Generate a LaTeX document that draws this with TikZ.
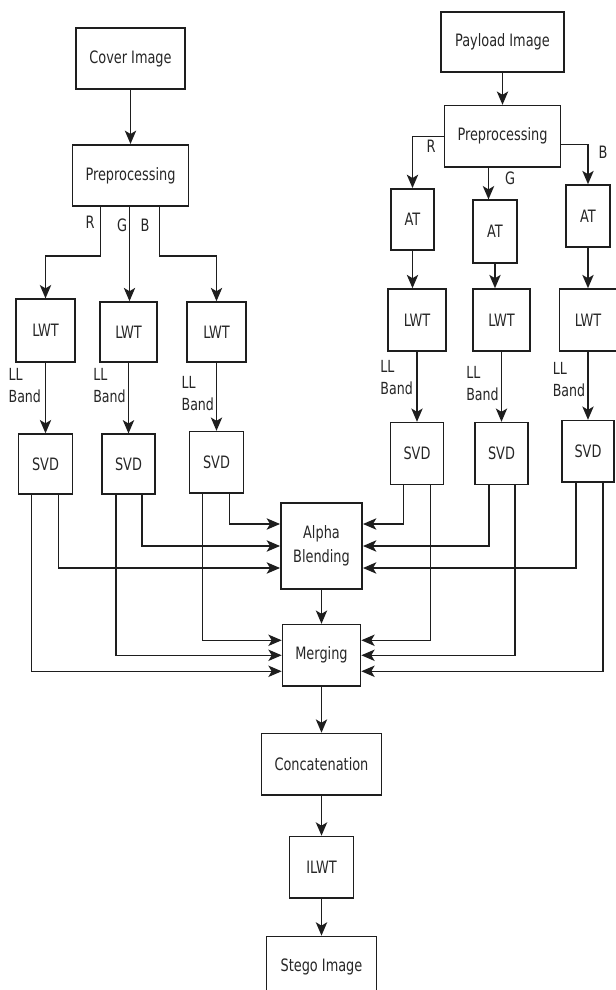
\documentclass[tikz,border=0pt]{standalone}
\usepackage{fontspec}
\setmainfont{DejaVu Sans Condensed}[FakeStretch=0.84]
\usepackage{tikz}
\usetikzlibrary{positioning,calc,arrows.meta}
\definecolor{ink}{HTML}{1E1E1E}
\definecolor{txt}{HTML}{262626}
\tikzset{
  procbox/.style={draw=ink, line width=1.2pt, align=center, inner sep=2pt, text=txt},
  arrow/.style={-{Stealth[length=10pt,width=8.5pt,inset=2.5pt]}, draw=ink, line width=1.1pt},
  bandlbl/.style={align=left, inner sep=0pt, anchor=north west, text=txt, font=\fontsize{12.5}{16.5}\selectfont},
  chlbl/.style={inner sep=0pt, text=txt}
}

\begin{document}
\begin{tikzpicture}[x=0.75pt, y={(0pt,-0.75pt)}, font=\fontsize{12.8}{15}\selectfont]
  \useasboundingbox (0,0) rectangle (616,990);

  % cover image side
  \node[procbox, minimum width=82pt, minimum height=46pt] (cover) at (130.5,58.5) {Cover Image};
  \node[procbox, minimum width=87pt, minimum height=46pt, below=40.5pt of cover] (prepL) {Preprocessing};
  \node[procbox, minimum width=44pt, minimum height=47pt] (lwt1) at (45.5,330.5) {LWT};
  \node[procbox, minimum width=43pt, minimum height=45pt] (lwt2) at (128.5,332) {LWT};
  \node[procbox, minimum width=44pt, minimum height=45pt] (lwt3) at (216.5,332) {LWT};
  \node[procbox, minimum width=40.5pt, minimum height=45pt, below=53pt of lwt1] (svd1) {SVD};
  \node[procbox, minimum width=40pt, minimum height=45pt, below=53pt of lwt2] (svd2) {SVD};
  \node[procbox, minimum width=40.5pt, minimum height=46pt, below=51pt of lwt3] (svd3) {SVD};

  % payload image side
  \node[procbox, minimum width=92pt, minimum height=45pt] (payload) at (502.5,42) {Payload Image};
  \node[procbox, minimum width=87pt, minimum height=46pt, below=24pt of payload] (prepR) {Preprocessing};
  \node[procbox, minimum width=32pt, minimum height=46pt] (at1) at (412.5,219.5) {AT};
  \node[procbox, minimum width=33pt, minimum height=47pt] (at2) at (495,231.5) {AT};
  \node[procbox, minimum width=33pt, minimum height=46.5pt] (at3) at (588,216) {AT};
  \node[procbox, minimum width=43.5pt, minimum height=46.5pt] (lwt4) at (417,320) {LWT};
  \node[procbox, minimum width=43pt, minimum height=46.5pt] (lwt5) at (501.5,320) {LWT};
  \node[procbox, minimum width=43pt, minimum height=46.5pt] (lwt6) at (588,320) {LWT};
  \node[procbox, minimum width=40pt, minimum height=46.5pt, below=52.5pt of lwt4] (svd4) {SVD};
  \node[procbox, minimum width=40pt, minimum height=46.5pt, below=52.5pt of lwt5] (svd5) {SVD};
  \node[procbox, minimum width=39pt, minimum height=46pt, below=51pt of lwt6] (svd6) {SVD};

  % middle column
  \node[procbox, minimum width=61pt, minimum height=64.5pt, font=\fontsize{12.8}{18}\selectfont] (alpha) at (321.5,546) {Alpha\\Blending};
  \node[procbox, minimum width=58.5pt, minimum height=46pt, below=25.5pt of alpha] (merge) {Merging};
  \node[procbox, minimum width=90pt, minimum height=46pt, below=34.5pt of merge] (concat) {Concatenation};
  \node[procbox, minimum width=48pt, minimum height=46pt, below=30pt of concat] (ilwt) {ILWT};
  \node[procbox, minimum width=82.5pt, minimum height=46.5pt, below=27.75pt of ilwt] (stego) {Stego Image};

  % channel split, cover
  \coordinate (gsrcL) at ($(prepL.south)+(-1,0)$);
  \draw[arrow] (cover) -- (prepL);
  \draw[arrow] ($(prepL.south)+(-30,0)$) -- ++(0,49) -| (lwt1);
  \draw[arrow] (gsrcL) -- (gsrcL |- lwt2.north);
  \draw[arrow] ($(prepL.south)+(29,0)$) -- ++(0,49) -| (lwt3);
  \node[chlbl] (rL) at (90,222) {R};
  \node[chlbl] (gL) at (122,225) {G};
  \node[chlbl] (bL) at (145,225) {B};

  % channel split, payload
  \coordinate (gsrcR) at ($(prepR.south)+(-14,0)$);
  \draw[arrow] (payload) -- (prepR);
  \draw[arrow] (prepR.west) -| (at1);
  \draw[arrow] (gsrcR) -- (gsrcR |- at2.north);
  \draw[arrow] ($(prepR.east)+(0,8)$) -| (at3);
  \node[chlbl] (rR) at (431,146) {R};
  \node[chlbl] (gR) at (510,178) {G};
  \node[chlbl] (bR) at (603,152) {B};

  \draw[arrow] (at1) -- (at1 |- lwt4.north);
  \draw[arrow] (at2) -- (at2 |- lwt5.north);
  \draw[arrow] (at3) -- (at3 |- lwt6.north);

  % LL band
  \draw[arrow] (lwt1) -- (lwt1 |- svd1.north);
  \draw[arrow] (lwt2) -- (lwt2 |- svd2.north);
  \draw[arrow] (lwt3) -- (lwt3 |- svd3.north);
  \draw[arrow] (lwt4) -- (lwt4 |- svd4.north);
  \draw[arrow] (lwt5) -- (lwt5 |- svd5.north);
  \draw[arrow] (lwt6) -- (lwt6 |- svd6.north);
  \node[bandlbl] (band1) at ($(lwt1.south west)+(-7,5)$) {LL\\Band};
  \node[bandlbl] (band2) at ($(lwt2.south west)+(-6,5)$) {LL\\Band};
  \node[bandlbl] (band3) at ($(lwt3.south west)+(-5,13)$) {LL\\Band};
  \node[bandlbl] (band4) at ($(lwt4.south west)+(-7,8)$) {LL\\Band};
  \node[bandlbl] (band5) at ($(lwt5.south west)+(-6,14)$) {LL\\Band};
  \node[bandlbl] (band6) at ($(lwt6.south west)+(-6,10)$) {LL\\Band};

  % into alpha blending
  \draw[arrow] ($(svd1.south)+(13,0)$) |- ($(alpha.west)+(0,22)$);
  \draw[arrow] ($(svd2.south)+(13.5,0)$) |- (alpha.west);
  \draw[arrow] ($(svd3.south)+(13,0)$) |- ($(alpha.west)+(0,-22)$);
  \draw[arrow] ($(svd4.south)+(-13.5,0)$) |- ($(alpha.east)+(0,-22)$);
  \draw[arrow] ($(svd5.south)+(-12.5,0)$) |- (alpha.east);
  \draw[arrow] ($(svd6.south)+(-12,0)$) |- ($(alpha.east)+(0,22)$);

  % into merging
  \draw[arrow] ($(svd1.south)+(-14,0)$) |- ($(merge.west)+(0,16)$);
  \draw[arrow] ($(svd2.south)+(-12.5,0)$) |- (merge.west);
  \draw[arrow] ($(svd3.south)+(-14,0)$) |- ($(merge.west)+(0,-15)$);
  \draw[arrow] ($(svd4.south)+(13.5,0)$) |- ($(merge.east)+(0,-15)$);
  \draw[arrow] ($(svd5.south)+(13.5,0)$) |- (merge.east);
  \draw[arrow] ($(svd6.south)+(15,0)$) |- ($(merge.east)+(0,16)$);

  \draw[arrow] (alpha) -- (merge);
  \draw[arrow] (merge) -- (concat);
  \draw[arrow] (concat) -- (ilwt);
  \draw[arrow] (ilwt) -- (stego);
\end{tikzpicture}
\end{document}
